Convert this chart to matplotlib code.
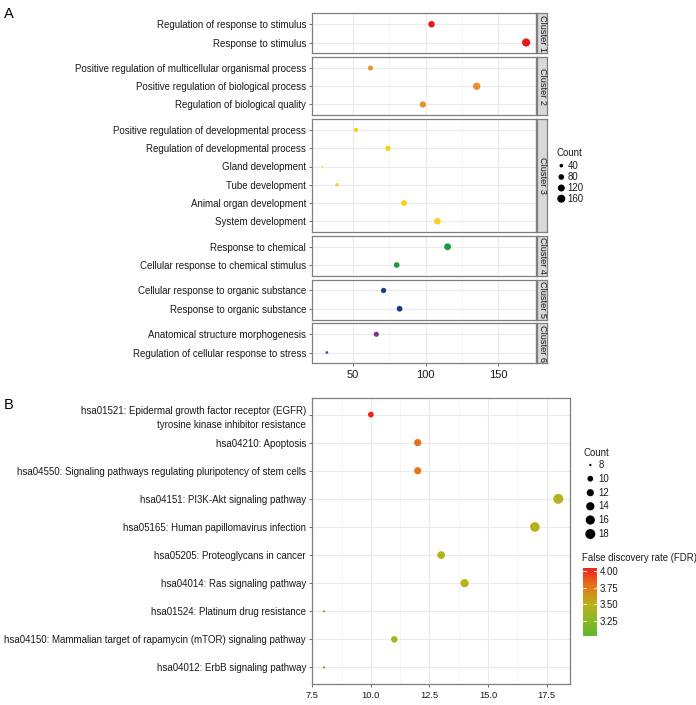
import numpy as np
import matplotlib
matplotlib.use("Agg")
import matplotlib.pyplot as plt
from matplotlib.colors import LinearSegmentedColormap, Normalize
from matplotlib.cm import ScalarMappable

plt.rcParams['font.family'] = ['Liberation Sans', 'DejaVu Sans']

# ---------------- Data: panel A ----------------
clusters = ["Cluster 1", "Cluster 2", "Cluster 3", "Cluster 4", "Cluster 5", "Cluster 6"]
cluster_terms = [
    ["Regulation of response to stimulus", "Response to stimulus"],
    ["Positive regulation of multicellular organismal process",
     "Positive regulation of biological process", "Regulation of biological quality"],
    ["Positive regulation of developmental process", "Regulation of developmental process",
     "Gland development", "Tube development", "Animal organ development", "System development"],
    ["Response to chemical", "Cellular response to chemical stimulus"],
    ["Cellular response to organic substance", "Response to organic substance"],
    ["Anatomical structure morphogenesis", "Regulation of cellular response to stress"],
]
cluster_counts = [
    [104, 169],
    [62, 135, 98],
    [52, 74, 29, 39, 85, 108],
    [115, 80],
    [71, 82],
    [66, 32],
]
cluster_colors = ["#e31a1c", "#e8902f", "#f5d21f", "#1a9a3a", "#1a3a8a", "#7b3294"]
countA_legend = [40, 80, 120, 160]
xticksA = [50, 100, 150]

# ---------------- Data: panel B ----------------
pathways = [
    "hsa01521: Epidermal growth factor receptor (EGFR)\ntyrosine kinase inhibitor resistance",
    "hsa04210: Apoptosis",
    "hsa04550: Signaling pathways regulating pluripotency of stem cells",
    "hsa04151: PI3K-Akt signaling pathway",
    "hsa05165: Human papillomavirus infection",
    "hsa05205: Proteoglycans in cancer",
    "hsa04014: Ras signaling pathway",
    "hsa01524: Platinum drug resistance",
    "hsa04150: Mammalian target of rapamycin (mTOR) signaling pathway",
    "hsa04012: ErbB signaling pathway",
]
countsB = [10, 12, 12, 18, 17, 13, 14, 8, 11, 8]
fdrB = [4.05, 3.79, 3.78, 3.49, 3.50, 3.47, 3.48, 3.20, 3.37, 3.02]
countB_legend = [8, 10, 12, 14, 16, 18]
fdr_ticks = [3.25, 3.50, 3.75, 4.00]
xticksB = [7.5, 10.0, 12.5, 15.0, 17.5]

# ---------------- Layout helpers ----------------
W, H = 696, 705
fig = plt.figure(figsize=(W / 100, H / 100), dpi=100)

def px_axes(x0, y0, x1, y1, **kw):
    return fig.add_axes([x0 / W, 1 - y1 / H, (x1 - x0) / W, (y1 - y0) / H], **kw)

def dia_to_s(d_px):
    return (d_px * 0.72) ** 2

TXT = "#1a1a1a"
BORDER = "#7f7f7f"
GRID = "#ebebeb"
GRID_MIN = "#f4f4f4"
FS_TICK = 7.0

# overlay for free text / legends
ov = px_axes(0, 0, W, H)
ov.set_xlim(0, W)
ov.set_ylim(H, 0)
ov.axis('off')

# ---------------- Panel A ----------------
allA = np.concatenate([np.array(c, float) for c in cluster_counts])
cminA, cmaxA = allA.min(), allA.max()

def sizeA(c):
    return 1.8 + (8.2 - 1.8) * np.sqrt((np.asarray(c, float) - cminA) / (cmaxA - cminA))

xa0, xa1 = 312.3, 536.3
unitA = 18.25
gapA = 3.6
y = 13.3
xlimA = (cminA - 0.05 * (cmaxA - cminA), cmaxA + 0.05 * (cmaxA - cminA))
for i, (terms, counts, col, cl) in enumerate(zip(cluster_terms, cluster_counts, cluster_colors, clusters)):
    n = len(terms)
    h = (n - 1 + 1.2) * unitA
    ax = px_axes(xa0, y, xa1, y + h)
    pos = np.arange(n)
    ax.set_ylim(n - 1 + 0.6, -0.6)
    ax.set_xlim(*xlimA)
    ax.set_xticks(xticksA)
    ax.set_xticks([25, 75, 125, 175], minor=True)
    ax.set_yticks(pos)
    ax.set_yticklabels(terms, fontsize=FS_TICK, color=TXT)
    ax.grid(True, which='major', color=GRID, lw=0.8)
    ax.grid(True, which='minor', axis='x', color=GRID_MIN, lw=0.6)
    ax.set_axisbelow(True)
    ax.scatter(counts, pos, s=dia_to_s(sizeA(counts)), color=col, zorder=3, linewidths=0)
    for sp in ax.spines.values():
        sp.set_color(BORDER)
        sp.set_linewidth(0.9)
    ax.tick_params(axis='both', which='major', length=2.5, width=0.6, color="#555555", pad=2)
    ax.tick_params(axis='x', which='minor', length=0)
    if i < len(clusters) - 1:
        ax.tick_params(axis='x', labelbottom=False, length=0)
    else:
        ax.tick_params(axis='x', labelsize=8, labelcolor=TXT, pad=2)
    # strip
    sax = px_axes(xa1 + 0.8, y, xa1 + 11, y + h)
    sax.set_xticks([]); sax.set_yticks([])
    sax.set_facecolor("#d9d9d9")
    for sp in sax.spines.values():
        sp.set_color(BORDER)
        sp.set_linewidth(0.9)
    sax.text(0.5, 0.5, cl, rotation=-90, ha='center', va='center', fontsize=6.6,
             color=TXT, transform=sax.transAxes)
    y += h + gapA

# Legend A
ov.text(556.7, 152.7, "Count", fontsize=6.9, color=TXT, ha='left', va='center')
legA_y = [165.7, 177.0, 188.0, 198.7]
ov.scatter([561.3] * len(countA_legend), legA_y, s=dia_to_s(sizeA(countA_legend)),
           color='black', linewidths=0)
for v, yy in zip(countA_legend, legA_y):
    ov.text(567.7, yy, str(v), fontsize=6.9, color=TXT, ha='left', va='center')

ov.text(3.5, 14.5, "A", fontsize=10.5, color='black', ha='left', va='center')
ov.text(3.5, 405, "B", fontsize=10.5, color='black', ha='left', va='center')

# ---------------- Panel B ----------------
cB = np.array(countsB, float)
cminB, cmaxB = cB.min(), cB.max()

def sizeB(c):
    return 2.3 + (10.0 - 2.3) * np.sqrt((np.asarray(c, float) - cminB) / (cmaxB - cminB))

cmap = LinearSegmentedColormap.from_list(
    "fdr", [(0.0, "#5fb92e"), (0.45, "#b5b41c"), (0.75, "#e6711a"), (1.0, "#ee2121")])
norm = Normalize(vmin=min(fdrB), vmax=max(fdrB))

axB = px_axes(312.3, 397.7, 570.0, 684.3)
nB = len(pathways)
posB = np.arange(nB)
axB.set_ylim(nB - 1 + 0.6, -0.6)
axB.set_xlim(cminB - 0.05 * (cmaxB - cminB), cmaxB + 0.05 * (cmaxB - cminB))
axB.set_xticks(xticksB)
axB.set_xticklabels([f"{v:.1f}" for v in xticksB])
axB.set_xticks([8.75, 11.25, 13.75, 16.25], minor=True)
axB.set_yticks(posB)
axB.set_yticklabels(pathways, fontsize=FS_TICK, color=TXT, ha='right')
for t in axB.get_yticklabels():
    t.set_linespacing(1.6)
axB.grid(True, which='major', color=GRID, lw=0.8)
axB.grid(True, which='minor', axis='x', color=GRID_MIN, lw=0.6)
axB.set_axisbelow(True)
axB.scatter(countsB, posB, s=dia_to_s(sizeB(countsB)), c=fdrB, cmap=cmap, norm=norm,
            zorder=3, linewidths=0)
for sp in axB.spines.values():
    sp.set_color(BORDER)
    sp.set_linewidth(0.9)
axB.tick_params(axis='both', which='major', length=2.5, width=0.6, color="#555555", pad=2)
axB.tick_params(axis='x', which='major', labelsize=6.7, labelcolor=TXT)
axB.tick_params(axis='x', which='minor', length=0)

# Legend B: count
ov.text(583.3, 452.7, "Count", fontsize=6.9, color=TXT, ha='left', va='center')
legB_y = [465.0, 478.7, 492.7, 506.3, 520.0, 534.0]
ov.scatter([590.3] * len(countB_legend), legB_y, s=dia_to_s(sizeB(countB_legend)),
           color='black', linewidths=0)
for v, yy in zip(countB_legend, legB_y):
    ov.text(598.3, yy, str(v), fontsize=6.9, color=TXT, ha='left', va='center')

# Legend B: FDR colorbar
ov.text(581.7, 557.7, "False discovery rate (FDR)", fontsize=6.9, color=TXT, ha='left', va='center')
cax = px_axes(583.3, 567.7, 596.7, 636.0)
sm = ScalarMappable(norm=norm, cmap=cmap)
cb = fig.colorbar(sm, cax=cax, ticks=fdr_ticks)
cb.outline.set_visible(False)
cb.ax.set_yticklabels([f"{v:.2f}" for v in fdr_ticks])
cb.ax.tick_params(length=0, labelsize=6.9, labelcolor=TXT, pad=2)
for v in fdr_ticks:
    cax.plot([0, 0.2], [v, v], color='white', lw=0.6, transform=cax.get_yaxis_transform())
    cax.plot([0.8, 1.0], [v, v], color='white', lw=0.6, transform=cax.get_yaxis_transform())

fig.savefig("out.png", dpi=100)
